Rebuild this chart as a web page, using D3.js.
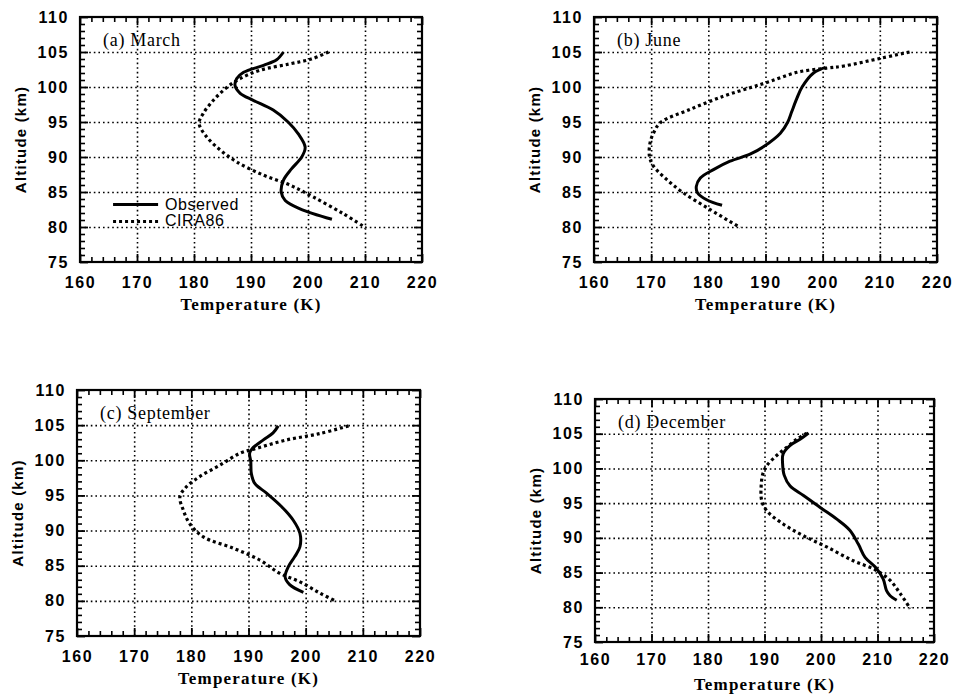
<!DOCTYPE html>
<html><head><meta charset="utf-8">
<script src="https://cdn.jsdelivr.net/npm/d3@7"></script>
<style>body{margin:0;background:#fff}svg{display:block}</style>
</head><body><svg id="c" width="954" height="694"></svg>
<script>
// ---------- data ----------
const tempDomain = [160, 220];
const altDomain = [75, 110];
const xTickValues = [160, 170, 180, 190, 200, 210, 220];
const yTickValues = [75, 80, 85, 90, 95, 100, 105, 110];
const panelTitles = ["(a) March", "(b) June", "(c) September", "(d) December"];
const seriesNames = ["Observed", "CIRA86"];
const xLabel = "Temperature (K)";
const yLabel = "Altitude (km)";

const marchObsT = [195.7,194.5,192.2,188.7,187.5,187.2,188.1,190.4,193.9,196.5,198.3,199.5,198.9,197.1,195.7,195.3,196.0,198.6,204.2];
const marchObsH = [105.0,103.9,103.1,102.1,101.2,100.2,99.1,98.1,96.7,95.0,93.3,91.4,90.0,88.3,86.7,85.0,83.8,82.6,81.1];
const marchCiraT = [203.6,200.6,196.8,191.6,188.1,185.7,183.4,181.6,180.9,182.2,184.6,187.5,192.2,196.8,200.9,206.2,210.1];
const marchCiraH = [105.0,104.0,103.3,102.4,101.2,99.9,98.1,96.2,94.8,92.9,91.0,89.3,87.4,86.0,84.3,81.9,79.9];

const juneObsT = [200.5,198.4,196.4,195.5,194.6,193.9,192.6,189.7,187.3,183.8,180.9,178.6,177.9,178.1,179.7,182.4];
const juneObsH = [102.8,102.0,100.0,98.4,96.5,95.0,93.4,91.5,90.4,89.4,88.2,87.0,85.8,84.9,83.9,83.1];
const juneCiraT = [215.2,210.1,203.7,200.7,195.5,190.8,187.3,182.7,176.8,171.6,170.4,169.8,169.7,170.4,172.7,175.6,180.3,185.6];
const juneCiraH = [105.0,104.1,103.0,102.7,102.1,100.8,99.9,98.7,96.8,94.9,93.4,92.0,90.1,88.7,86.8,84.9,82.5,79.9];

const septObsT = [195.2,194.3,192.6,190.7,190.2,190.4,190.5,191.1,193.2,195.8,197.8,199.0,199.0,198.1,197.0,196.4,197.2,199.6];
const septObsH = [104.9,103.9,102.9,101.7,101.0,99.8,98.1,96.7,95.3,93.4,91.5,89.6,87.7,86.3,84.9,83.4,82.3,81.2];
const septCiraT = [207.5,202.5,196.7,191.4,188.5,185.0,181.5,179.1,178.0,178.6,179.7,182.1,187.3,192.0,195.5,199.0,202.5,205.4];
const septCiraH = [104.9,103.8,102.9,101.7,101.0,99.3,97.7,96.2,94.8,92.9,91.0,89.1,87.5,85.8,83.9,82.7,81.1,79.9];

const decObsT = [197.8,196.3,194.5,193.3,193.2,193.5,194.5,196.9,199.8,202.8,205.1,206.6,207.8,209.6,211.0,211.6,212.2,213.4];
const decObsH = [105.1,104.2,103.3,102.1,100.7,99.0,97.5,96.1,94.4,92.7,91.1,89.1,87.2,85.8,84.1,82.4,81.7,81.0];
const decCiraT = [197.5,195.7,193.9,192.2,190.4,189.7,189.4,189.5,190.4,193.3,196.9,201.0,205.7,209.6,212.2,214.0,215.8];
const decCiraH = [105.1,104.2,103.0,101.9,100.4,99.2,97.3,95.4,93.9,92.0,90.3,88.7,86.7,85.4,83.9,82.0,79.8];

// ---------- layout ----------
const panels = [
  {left: 80,  top: 17,  w: 342, h: 245, obs: [marchObsT, marchObsH], cira: [marchCiraT, marchCiraH], legend: true},
  {left: 594, top: 17,  w: 343, h: 245, obs: [juneObsT, juneObsH],   cira: [juneCiraT, juneCiraH]},
  {left: 77,  top: 390, w: 343, h: 246, obs: [septObsT, septObsH],   cira: [septCiraT, septCiraH]},
  {left: 595, top: 399, w: 339, h: 243, obs: [decObsT, decObsH],     cira: [decCiraT, decCiraH]}
];

const svg = d3.select("#c");
const sans = "'Liberation Sans', Arial, sans-serif";
const serif = "'Liberation Serif', 'Times New Roman', serif";

panels.forEach((p, i) => {
  const g = svg.append("g").attr("transform", `translate(${p.left},${p.top})`);
  const x = d3.scaleLinear().domain(tempDomain).range([0, p.w]);
  const y = d3.scaleLinear().domain(altDomain).range([p.h, 0]);

  const xMinor = d3.range(162, 220, 2).filter(v => v % 10 !== 0);
  const yMinor = d3.range(76, 110, 1).filter(v => v % 5 !== 0);

  // grid
  const gridStyle = sel => {
    sel.select(".domain").remove();
    sel.selectAll("text").remove();
    sel.selectAll("line").attr("stroke", "#000").attr("stroke-width", 1.6).attr("stroke-dasharray", "1.6,3");
  };
  g.append("g").attr("transform", `translate(0,${p.h})`)
    .call(d3.axisBottom(x).tickValues(xTickValues.slice(1, -1)).tickSize(-p.h)).call(gridStyle);
  g.append("g")
    .call(d3.axisLeft(y).tickValues(yTickValues.slice(1, -1)).tickSize(-p.w)).call(gridStyle);

  // minor + major ticks on all sides
  const tickStyle = (sel, w) => {
    sel.select(".domain").remove();
    sel.selectAll("text").remove();
    sel.selectAll("line").attr("stroke", "#000").attr("stroke-width", w);
  };
  g.append("g").attr("transform", `translate(0,${p.h})`).call(d3.axisBottom(x).tickValues(xMinor).tickSize(-5)).call(tickStyle, 1.6);
  g.append("g").call(d3.axisTop(x).tickValues(xMinor).tickSize(-5)).call(tickStyle, 1.6);
  g.append("g").call(d3.axisLeft(y).tickValues(yMinor).tickSize(-5)).call(tickStyle, 1.6);
  g.append("g").attr("transform", `translate(${p.w},0)`).call(d3.axisRight(y).tickValues(yMinor).tickSize(-5)).call(tickStyle, 1.6);
  g.append("g").attr("transform", `translate(${p.w},0)`).call(d3.axisRight(y).tickValues(yTickValues).tickSize(-8)).call(tickStyle, 1.8);
  g.append("g").call(d3.axisTop(x).tickValues(xTickValues).tickSize(-8)).call(tickStyle, 1.8);

  // labelled axes
  const xa = g.append("g").attr("transform", `translate(0,${p.h})`)
    .call(d3.axisBottom(x).tickValues(xTickValues).tickSize(-8).tickPadding(i === 3 ? 12 : 15).tickFormat(d3.format("d")));
  const ya = g.append("g")
    .call(d3.axisLeft(y).tickValues(yTickValues).tickSize(-8).tickPadding(11).tickFormat(d3.format("d")));
  [xa, ya].forEach(a => {
    a.attr("font-family", sans).attr("font-size", 16).attr("font-weight", "bold");
    a.select(".domain").remove();
    a.selectAll("line").attr("stroke", "#000").attr("stroke-width", 1.8);
    a.selectAll("text").attr("fill", "#000")
      .style("font-family", sans).style("font-size", "16px").style("font-weight", "700").style("letter-spacing", "1.6px");
  });

  // frame
  g.append("rect").attr("width", p.w).attr("height", p.h)
    .attr("fill", "none").attr("stroke", "#000").attr("stroke-width", 2.2);

  // curves
  const line = d3.line().x(d => x(d[0])).y(d => y(d[1])).curve(d3.curveCatmullRom.alpha(0.5));
  const ciraPts = p.cira[0].map((t, k) => [t, p.cira[1][k]]);
  const obsPts = p.obs[0].map((t, k) => [t, p.obs[1][k]]);
  g.append("path").attr("d", line(ciraPts)).attr("fill", "none").attr("stroke", "#000")
    .attr("stroke-width", 3.2).attr("stroke-dasharray", "3,3");
  g.append("path").attr("d", line(obsPts)).attr("fill", "none").attr("stroke", "#000")
    .attr("stroke-width", 3);

  // title
  g.append("text").attr("x", 23).attr("y", 29).text(panelTitles[i])
    .style("font-family", serif).style("font-size", "18px").style("letter-spacing", "0.7px").attr("fill", "#000");

  // axis labels
  g.append("text").attr("x", p.w / 2).attr("y", p.h + 48).attr("text-anchor", "middle")
    .text(xLabel).style("font-family", serif).style("font-size", "17px").style("font-weight", "bold")
    .style("letter-spacing", "1.2px").attr("fill", "#000");
  g.append("text").attr("transform", `translate(-54,${p.h / 2}) rotate(-90)`).attr("text-anchor", "middle")
    .text(yLabel).style("font-family", sans).style("font-size", "15px").style("font-weight", "bold")
    .style("letter-spacing", "1.2px").attr("fill", "#000");

  // legend
  if (p.legend) {
    const lg = g.append("g");
    const rows = [{name: seriesNames[0], dash: null, yv: 83.2}, {name: seriesNames[1], dash: "3,3", yv: 80.8}];
    rows.forEach(r => {
      const ly = y(r.yv);
      lg.append("line").attr("x1", x(165.8)).attr("x2", x(173.7)).attr("y1", ly).attr("y2", ly)
        .attr("stroke", "#000").attr("stroke-width", 3).attr("stroke-dasharray", r.dash);
      lg.append("text").attr("x", x(174.9)).attr("y", ly + 5).text(r.name)
        .style("font-family", sans).style("font-size", "16px").style("letter-spacing", "0.6px").attr("fill", "#000");
    });
  }
});
</script></body></html>
